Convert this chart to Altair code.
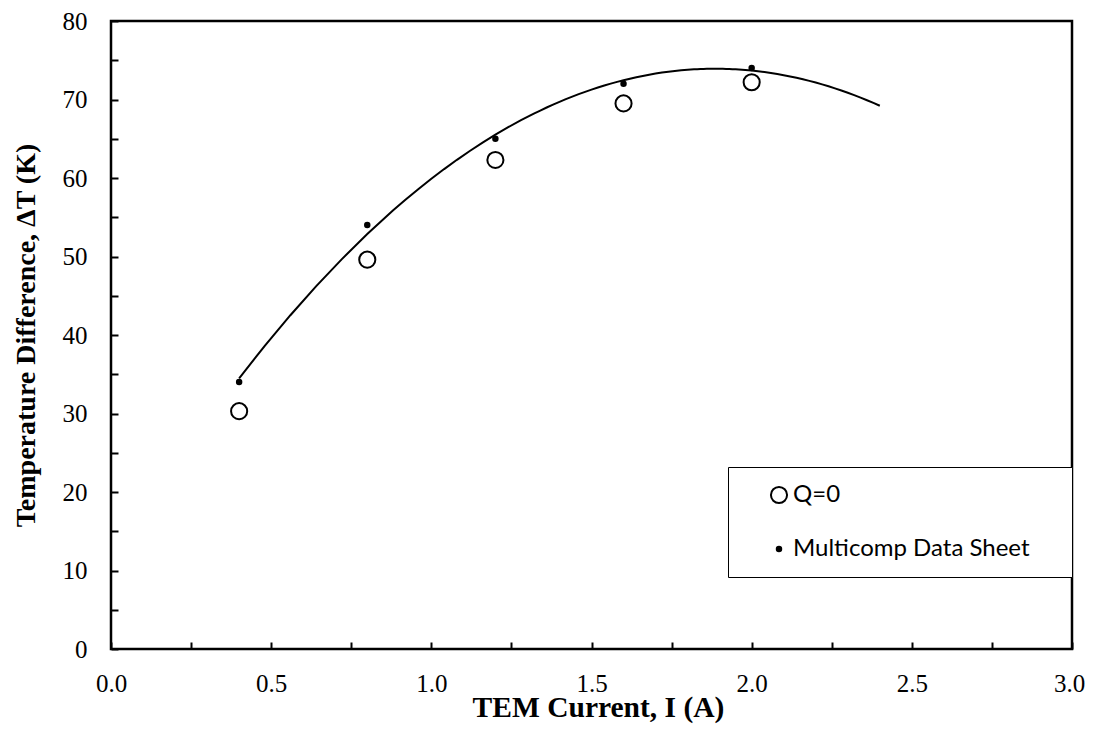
import altair as alt
import pandas as pd

# Data
current = [0.4, 0.8, 1.2, 1.6, 2.0]
dt_q0 = [30.3, 49.6, 62.3, 69.5, 72.2]
dt_multicomp = [34.0, 54.0, 65.0, 72.0, 74.0]
series_names = ["Q=0", "Multicomp Data Sheet"]
fit_extent = [0.4, 2.4]

x_ticks = [0.0, 0.25, 0.5, 0.75, 1.0, 1.25, 1.5, 1.75, 2.0, 2.25, 2.5, 2.75, 3.0]
y_ticks = [0, 5, 10, 15, 20, 25, 30, 35, 40, 45, 50, 55, 60, 65, 70, 75, 80]

df = pd.DataFrame({
    "current": current + current,
    "dt": dt_q0 + dt_multicomp,
    "series": [series_names[0]] * len(current) + [series_names[1]] * len(current),
})
df_mc = pd.DataFrame({"current": current, "dt": dt_multicomp})

serif = "Liberation Serif"

x_axis = alt.Axis(
    values=x_ticks,
    labelExpr="datum.value % 0.5 == 0 ? format(datum.value, '.1f') : ''",
    title="TEM Current, I (A)",
    domain=False, grid=False,
    offset=-7, tickSize=7, tickWidth=2, tickColor="black",
    labelFont=serif, labelFontSize=25, labelColor="black", labelPadding=22,
    labelOffset={"condition": {"test": "datum.value == 3", "value": -3}, "value": 0},
    labelOverlap=False, labelFlush=False, labelBound=False,
    titleFont=serif, titleFontSize=29.5, titleFontWeight="bold", titleColor="black",
    titlePadding=-3, titleX=487,
)
y_axis = alt.Axis(
    values=y_ticks,
    labelExpr="datum.value % 10 == 0 ? format(datum.value, 'd') : ''",
    title="Temperature Difference, ΔT (K)",
    domain=False, grid=False,
    offset=-7, tickSize=7, tickWidth=2, tickColor="black",
    labelFont=serif, labelFontSize=25, labelColor="black", labelPadding=24,
    labelOverlap=False, labelFlush=False, labelBound=False,
    titleFont=serif, titleFontSize=28, titleFontWeight="bold", titleColor="black",
    titlePadding=22,
)

x_enc = alt.X("current:Q", scale=alt.Scale(domain=[0, 3], nice=False, zero=False), axis=x_axis)
y_enc = alt.Y("dt:Q", scale=alt.Scale(domain=[0, 80], nice=False), axis=y_axis)

legend = alt.Legend(
    title=" ", titleOrient="right", titleFontSize=24, titlePadding=26,
    orient="none", legendX=617, legendY=446,
    strokeColor="black", fillColor="white", padding=16,
    labelFont="Lato", labelFontSize=24, labelColor="black", labelLimit=500,
    rowPadding=29, symbolOffset=23, labelOffset=2,
    symbolStrokeColor="black", symbolStrokeWidth=2,
)

fit = alt.Chart(df_mc).transform_regression(
    "current", "dt", method="poly", order=2, extent=fit_extent
).mark_line(color="black", strokeWidth=2).encode(x=x_enc, y=y_enc)

points = alt.Chart(df).mark_point(filled=True, strokeWidth=2, opacity=1).encode(
    x=x_enc,
    y=y_enc,
    fill=alt.Fill("series:N", scale=alt.Scale(domain=series_names, range=["white", "black"]), legend=legend),
    stroke=alt.Stroke("series:N", scale=alt.Scale(domain=series_names, range=["black", "black"]), legend=legend),
    size=alt.Size("series:N", scale=alt.Scale(domain=series_names, range=[260, 20]), legend=legend),
)

chart = alt.layer(fit, points).properties(
    width=961, height=628,
    autosize=alt.AutoSizeParams(type="none"),
    padding={"left": 103, "top": 13, "right": 14, "bottom": 80},
    background="white",
).configure_view(stroke="black", strokeWidth=2.5)

chart.save("out.html", embed_options={"renderer": "svg", "actions": False})
